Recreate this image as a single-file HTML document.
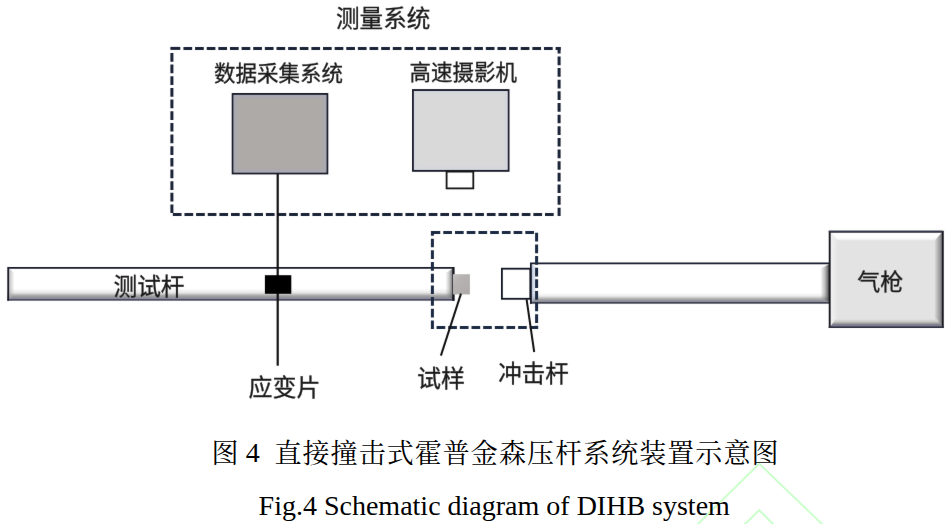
<!DOCTYPE html>
<html lang="zh">
<head>
<meta charset="utf-8">
<title>图 4 直接撞击式霍普金森压杆系统装置示意图</title>
<style>
html,body{margin:0;padding:0;background:#fff;}
body{width:951px;height:524px;overflow:hidden;position:relative;}
#fig{position:absolute;left:0;top:0;display:block;will-change:transform;}
.sans{font-family:"Liberation Sans","Noto Sans CJK SC",sans-serif;fill:#1a1a1a;stroke:#1a1a1a;stroke-width:0.3px;}
.cap{position:absolute;margin:0;white-space:pre;color:#000;font-size:28px;line-height:28px;
  font-family:"Liberation Serif","Noto Serif CJK SC",serif;}
#cap1{left:211.4px;top:440.4px;}
#cap1 .c{font-size:27px;letter-spacing:1.06px;}
#cap1 .n{position:relative;top:-1.4px;left:-0.7px;}
#cap2{left:258.6px;top:491.9px;}
#wm{position:absolute;left:0;top:0;display:block;}
</style>
</head>
<body>
<!-- watermark -->
<svg id="wm" width="951" height="524" viewBox="0 0 951 524">
<g fill="none" stroke="#ccffcc" stroke-width="2">
  <path d="M696 526 L759.2 463.7 L824 526"/>
  <path d="M743 526 L759.2 510.2 L775 526"/>
</g>
</svg>
<p class="cap" id="cap1"><span class="c">图</span><span class="n"> 4  </span><span class="c">直接撞击式霍普金森压杆系统装置示意图</span></p>
<p class="cap" id="cap2">Fig.4 Schematic diagram of DIHB system</p>

<svg id="fig" width="951" height="430" viewBox="0 0 951 430">
<defs>
  <filter id="soft" x="0" y="0" width="951" height="430" filterUnits="userSpaceOnUse" color-interpolation-filters="sRGB"><feConvolveMatrix order="3" kernelMatrix="0.0028 0.0470 0.0028 0.0470 0.8008 0.0470 0.0028 0.0470 0.0028" edgeMode="duplicate" preserveAlpha="false"/></filter>
  <linearGradient id="barT" gradientUnits="userSpaceOnUse" x1="0" y1="267" x2="0" y2="300.7">
    <stop offset="0" stop-color="#ffffff"/>
    <stop offset="0.635" stop-color="#ffffff"/>
    <stop offset="0.76" stop-color="#e8e8e8"/>
    <stop offset="0.85" stop-color="#a8a8a8"/>
    <stop offset="0.885" stop-color="#9a9a9e"/>
    <stop offset="0.92" stop-color="#8e8e9e"/>
    <stop offset="0.95" stop-color="#88889a"/>
    <stop offset="0.962" stop-color="#4c4c5e"/>
    <stop offset="1" stop-color="#46465a"/>
  </linearGradient>
  <linearGradient id="barS" gradientUnits="userSpaceOnUse" x1="0" y1="262.4" x2="0" y2="303.7">
    <stop offset="0" stop-color="#ffffff"/>
    <stop offset="0.729" stop-color="#ffffff"/>
    <stop offset="0.814" stop-color="#ececec"/>
    <stop offset="0.893" stop-color="#a8a8a8"/>
    <stop offset="0.915" stop-color="#9a9a9e"/>
    <stop offset="0.94" stop-color="#8e8e9e"/>
    <stop offset="0.958" stop-color="#88889a"/>
    <stop offset="0.968" stop-color="#40404f"/>
    <stop offset="1" stop-color="#3c3c4c"/>
  </linearGradient>
  <linearGradient id="edgeL2" x1="0" y1="0" x2="1" y2="0">
    <stop offset="0" stop-color="#b4c0da" stop-opacity="0.9"/>
    <stop offset="1" stop-color="#b4c0da" stop-opacity="0"/>
  </linearGradient>
  <linearGradient id="smp" x1="0" y1="0" x2="1" y2="1">
    <stop offset="0" stop-color="#c6c3c2"/>
    <stop offset="0.3" stop-color="#b6b3b2"/>
    <stop offset="0.75" stop-color="#b0adac"/>
    <stop offset="1" stop-color="#a9a6a5"/>
  </linearGradient>
  <linearGradient id="edgeRt" x1="0" y1="0" x2="1" y2="0">
    <stop offset="0" stop-color="#808080" stop-opacity="0"/>
    <stop offset="0.5" stop-color="#808080" stop-opacity="0.4"/>
    <stop offset="1" stop-color="#6e6e6e" stop-opacity="0.95"/>
  </linearGradient>
  <linearGradient id="edgeR" x1="0" y1="0" x2="1" y2="0">
    <stop offset="0" stop-color="#707070" stop-opacity="0"/>
    <stop offset="0.5" stop-color="#707070" stop-opacity="0.45"/>
    <stop offset="1" stop-color="#505050" stop-opacity="1"/>
  </linearGradient>
  <linearGradient id="edgeL" x1="0" y1="0" x2="1" y2="0">
    <stop offset="0" stop-color="#b0b0b0" stop-opacity="0.8"/>
    <stop offset="1" stop-color="#b0b0b0" stop-opacity="0"/>
  </linearGradient>
  <linearGradient id="gunT" x1="0" y1="0" x2="0" y2="1">
    <stop offset="0" stop-color="#ffffff"/>
    <stop offset="0.7" stop-color="#fdfdfd"/>
    <stop offset="1" stop-color="#ebebeb"/>
  </linearGradient>
  <linearGradient id="gunB" gradientUnits="userSpaceOnUse" x1="0" y1="319.2" x2="0" y2="327.2">
    <stop offset="0" stop-color="#e0e0e0"/>
    <stop offset="0.3" stop-color="#c8c8c6"/>
    <stop offset="0.5" stop-color="#a8a8a6"/>
    <stop offset="0.62" stop-color="#84848f"/>
    <stop offset="0.9" stop-color="#787890"/>
    <stop offset="1" stop-color="#6a6a80"/>
  </linearGradient>
  <linearGradient id="gunL" x1="0" y1="0" x2="1" y2="0">
    <stop offset="0" stop-color="#f4f4f4"/>
    <stop offset="1" stop-color="#e4e4e4"/>
  </linearGradient>
  <linearGradient id="gunR" x1="0" y1="0" x2="1" y2="0">
    <stop offset="0" stop-color="#dadada"/>
    <stop offset="0.55" stop-color="#a2a2a2"/>
    <stop offset="1" stop-color="#6c6c72"/>
  </linearGradient>
</defs>

<g filter="url(#soft)">
<rect x="0" y="0" width="951" height="430" fill="#fff"/>
<!-- measurement system dashed frame -->
<g fill="none" stroke="#1a2236" stroke-width="3">
  <path d="M170.4 48.4 H180.3"/>
  <path d="M183.45 48.4 H560.6" stroke-dasharray="8.7 2.93"/>
  <path d="M559.1 46.9 V216" stroke-dasharray="8.7 2.93" stroke-dashoffset="2.05"/>
  <path d="M172.85 214.5 H554" stroke-dasharray="8.7 2.93"/>
  <path d="M171.9 52.95 V213.1" stroke-dasharray="8.7 2.96"/>
</g>

<!-- data acquisition box -->
<rect x="232.65" y="93.95" width="94.7" height="79.5" fill="#aeaaa8" stroke="#1a1c2a" stroke-width="1.9"/>
<rect x="234.6" y="95.9" width="90.8" height="75.6" fill="none" stroke="#a8aab8" stroke-width="2" opacity="0.8"/>
<rect x="236.6" y="97.9" width="86.8" height="71.6" fill="none" stroke="#a8aab8" stroke-width="2" opacity="0.35"/>
<!-- camera -->
<rect x="412.95" y="90.05" width="95.6" height="80.8" fill="#d9d9d9" stroke="#1a1c2a" stroke-width="1.9"/>
<rect x="414.9" y="92" width="91.7" height="76.7" fill="none" stroke="#d3d6de" stroke-width="2" opacity="0.8"/>
<rect x="416.9" y="94" width="87.7" height="72.7" fill="none" stroke="#d3d6de" stroke-width="2" opacity="0.35"/>
<rect x="446.6" y="171.6" width="26.7" height="16.8" fill="#ffffff" stroke="#151515" stroke-width="1.8"/>

<!-- test bar -->
<rect x="7.3" y="267" width="447.1" height="33.7" fill="url(#barT)"/>
<path d="M9.1 268.8 L14.4 272.5 V295 L9.1 298.9 Z" fill="url(#edgeL)"/>
<path d="M452.6 268.8 L445.4 273 V295 L452.6 298.9 Z" fill="url(#edgeRt)"/>
<path d="M8.2 300.7 V267.9 H453.4 V300.7" fill="none" stroke="#181a28" stroke-width="1.8"/>
<rect x="452.4" y="267" width="2" height="33.7" fill="#14161f"/>

<!-- striker bar -->
<rect x="530" y="262.4" width="299" height="41.3" fill="url(#barS)"/>
<path d="M531.8 264.2 L537 268 V298 L531.8 301.8 Z" fill="url(#edgeL2)"/>
<path d="M829 264.2 L820.5 268.4 V298 L829 301.8 Z" fill="url(#edgeR)"/>
<path d="M530.9 303.7 V263.3 H829 " fill="none" stroke="#161a2c" stroke-width="1.8"/>
<!-- striker head -->
<rect x="501.9" y="268.7" width="28.4" height="30.1" fill="#ffffff" stroke="#111522" stroke-width="1.8"/>

<!-- small dashed frame -->
<g fill="none" stroke="#1b2a42" stroke-width="3">
  <path d="M430.9 232.4 H534.5" stroke-dasharray="8.7 3.02" stroke-dashoffset="-0.65"/>
  <path d="M536.6 232.85 V329.1" stroke-dasharray="8.7 2.92"/>
  <path d="M436.55 327.5 H538.1" stroke-dasharray="8.7 2.95"/>
  <path d="M432.4 230.9 V329.1" stroke-dasharray="8.7 2.99" stroke-dashoffset="3.95"/>
</g>

<!-- specimen -->
<rect x="452.9" y="274.2" width="17" height="20.2" fill="url(#smp)"/>

<!-- gas gun -->
<g>
  <rect x="829.7" y="231.6" width="113.1" height="95.6" fill="#e3e3e3"/>
  <path d="M829.7 231.6 H942.8 L934.8 240.6 H837.7 Z" fill="url(#gunT)"/>
  <path d="M829.7 231.6 L837.7 240.6 V319.2 L829.7 327.2 Z" fill="url(#gunL)"/>
  <path d="M942.8 231.6 L934.8 240.6 V319.2 L942.8 327.2 Z" fill="url(#gunR)"/>
  <path d="M829.7 327.2 H942.8 L936.8 319.2 H835.7 Z" fill="url(#gunB)"/>
  <path d="M829.7 328 V231.6 H942.8 V328" fill="none" stroke="#17171f" stroke-width="1.9"/>
  <path d="M828.75 231.6 H942" stroke="#34344a" stroke-width="1.9" fill="none"/>
  <path d="M828.75 327.3 H943.75" stroke="#2a2a3c" stroke-width="1.4" fill="none"/>
</g>

<!-- leader lines -->
<g stroke="#111" stroke-width="2" fill="none">
  <path d="M277.7 174 V365.7" stroke-width="2.2"/>
  <path d="M461 293.6 L440.9 355.6"/>
  <path d="M526.6 299.4 L534.2 352"/>
</g>
<!-- strain gauge -->
<rect x="264.9" y="275.2" width="26.4" height="18.6" fill="#000"/>

<!-- labels -->
<g class="sans">
  <text x="383.2" y="26.8" font-size="23.6" text-anchor="middle">测量系统</text>
  <text x="278.5" y="81.1" font-size="21.5" text-anchor="middle">数据采集系统</text>
  <text x="463.3" y="80.1" font-size="21.5" text-anchor="middle">高速摄影机</text>
  <text x="149" y="294.8" font-size="23.7" text-anchor="middle">测试杆</text>
  <text x="880.3" y="289.7" font-size="23" text-anchor="middle">气枪</text>
  <text x="284.4" y="396.1" font-size="24" text-anchor="middle">应变片</text>
  <text x="441" y="387" font-size="24" text-anchor="middle">试样</text>
  <text x="533.4" y="381.9" font-size="23.5" text-anchor="middle">冲击杆</text>
</g>
</g>
</svg>

</body>
</html>
